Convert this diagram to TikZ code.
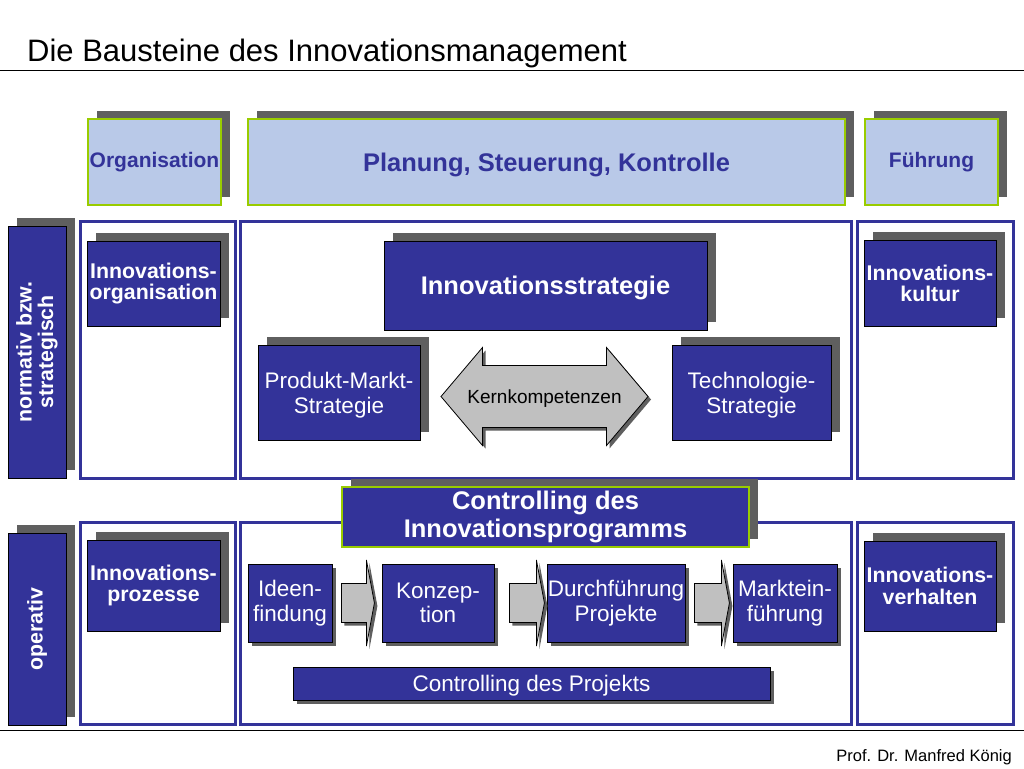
\documentclass[tikz,border=0pt]{standalone}
\usepackage{fontspec}
\setmainfont{Liberation Sans}
\usetikzlibrary{shadows,calc}
\definecolor{navy}{RGB}{51,51,153}
\definecolor{lightblue}{RGB}{185,201,232}
\definecolor{limeborder}{RGB}{153,204,0}
\definecolor{shadowgray}{RGB}{95,95,95}
\definecolor{arrowgray}{RGB}{192,192,192}
\newcommand\szTitle{\fontsize{31}{36}\selectfont}
\newcommand\szFoot{\fontsize{16.5}{20}\selectfont}
\newcommand\szTop{\fontsize{21}{24}\selectfont\bfseries}
\newcommand\szBig{\fontsize{25.5}{28}\selectfont\bfseries}
\newcommand\szBold{\fontsize{21.3}{21.5}\selectfont\bfseries}
\newcommand\szReg{\fontsize{22.5}{24.5}\selectfont}
\newcommand\szRegW{\fontsize{22.5}{25}\selectfont}
\newcommand\szKern{\fontsize{19}{22}\selectfont}
\newcommand\procarrow[2]{%
  \draw[blockarrow] ($(#1)+(0,-19.5)$) -- ++({#2-8},0) -- ++(0,-23.5) -- ++(8,43)
    -- ++(-8,43) -- ++(0,-23.5) -- ++({-(#2-8)},0) -- cycle;}
\begin{document}
\begin{tikzpicture}[x=1pt,y=-1pt,
  upshadow/.style={general shadow={fill=shadowgray, shadow xshift=8.5pt, shadow yshift=8.5pt}},
  downshadow/.style={general shadow={fill=shadowgray, shadow xshift=3.5pt, shadow yshift=-3.5pt}},
  topbox/.style={rectangle, fill=lightblue, draw=limeborder, line width=1.2pt, inner sep=0pt,
    text=navy, font=\szTop, align=center, upshadow},
  navybox/.style={rectangle, fill=navy, draw=black, line width=0.8pt, inner sep=0pt,
    text=white, align=center, upshadow},
  procbox/.style={rectangle, fill=navy, draw=black, line width=0.8pt, inner sep=0pt,
    text=white, align=center, font=\szReg, downshadow},
  frame/.style={rectangle, draw=navy, line width=3pt, fill=white, inner sep=0pt},
  blockarrow/.style={fill=arrowgray, draw=black, line width=0.8pt,
    general shadow={fill=shadowgray, shadow xshift=3pt, shadow yshift=-3pt}},
  nodepth/.style={text depth=0pt},
  rule/.style={draw=black, line width=0.9pt}
]
\fill[white] (0,0) rectangle (1024,768);
\useasboundingbox (0,0) rectangle (1024,768);

% title and rules
\node[anchor=base west, inner sep=0pt, font=\szTitle] (title) at (27,61) {Die Bausteine des Innovationsmanagement};
\coordinate (rl1) at (0,70);
\coordinate (rr1) at (1024,70);
\draw[rule] (rl1) -- (rr1);
\coordinate (rl2) at (0,730.5);
\coordinate (rr2) at (1024,730.5);
\draw[rule, line width=1.2pt] (rl2) -- (rr2);
\node[anchor=base east, inner sep=0pt, font=\szFoot] (foot) at (1012,761) {Prof. Dr. Manfred König};

% top row
\node[topbox, minimum width=133pt, minimum height=86pt] (org) at (154.5,162) {Organisation};
\node[topbox, font=\szBig, nodepth, minimum width=597pt, minimum height=86pt] (psk) at (546.5,162) {Planung, Steuerung, Kontrolle};
\node[topbox, minimum width=133pt, minimum height=86pt] (fue) at (931.5,162) {Führung};

% frames
\node[frame, minimum width=155pt, minimum height=257pt] (f1u) at (157.5,349.5) {};
\node[frame, minimum width=611pt, minimum height=257pt] (f2u) at (545.5,349.5) {};
\node[frame, minimum width=156pt, minimum height=257pt] (f3u) at (935,349.5) {};
\node[frame, minimum width=155pt, minimum height=202pt] (f1l) at (157.5,623) {};
\node[frame, minimum width=611pt, minimum height=202pt] (f2l) at (545.5,623) {};
\node[frame, minimum width=156pt, minimum height=202pt] (f3l) at (935,623) {};

% side labels
\node[navybox, minimum width=58pt, minimum height=252pt] (norm) at (37,352) {};
\node[rotate=90, text=white, font=\szBold, align=center, inner sep=0pt] (normt) at (norm.center) {normativ bzw.\\strategisch};
\node[navybox, minimum width=58pt, minimum height=192pt] (oper) at (37,629) {};
\node[rotate=90, text=white, font=\szBold, align=center, inner sep=0pt] (opert) at (oper.center) {operativ};

% side boxes
\node[navybox, font=\szBold, minimum width=133pt, minimum height=85pt] (iorg) at (153.5,283.5) {Innovations-\\organisation};
\node[navybox, font=\szBold, minimum width=132pt, minimum height=86pt] (ikul) at (930,283.5) {Innovations-\\kultur};
\node[navybox, font=\szBold, minimum width=133pt, minimum height=91pt] (ipro) at (153.5,585.5) {Innovations-\\prozesse};
\node[navybox, font=\szBold, minimum width=132pt, minimum height=90pt] (iver) at (930,586) {Innovations-\\verhalten};

% strategy
\node[navybox, font=\szBig, nodepth, minimum width=323pt, minimum height=89pt] (istr) at (545.5,285.5) {Innovationsstrategie};
\node[navybox, font=\szRegW, nodepth, minimum width=162pt, minimum height=95pt] (prod) at (339,392.5) {Produkt-Markt-\\Strategie};
\node[navybox, font=\szRegW, nodepth, minimum width=159pt, minimum height=95pt] (tech) at (751.5,392.5) {Technologie-\\Strategie};
\coordinate (kc) at ($($(prod.east)!0.5!(tech.west)$)+(-1.5,4)$);
\draw[blockarrow] ($(kc)+(-103.5,0)$) -- ++(41.5,-49) -- ++(0,18) -- ++(124,0) -- ++(0,-18)
  -- ++(41.5,49) -- ++(-41.5,49) -- ++(0,-18) -- ++(-124,0) -- ++(0,18) -- cycle;
\node[font=\szKern, nodepth, text=black, inner sep=0pt] (kk) at (kc) {Kernkompetenzen};

% controlling programme
\node[navybox, draw=limeborder, line width=1.2pt, font=\szBig, minimum width=407pt, minimum height=60pt] (cip) at (545.5,517) {Controlling des\\Innovationsprogramms};

% process
\node[procbox, minimum width=84pt, minimum height=78pt] (ideen) at (290,603) {Ideen-\\findung};
\node[procbox, minimum width=112pt, minimum height=78pt] (konz) at (438,603) {Konzep-\\tion};
\node[procbox, minimum width=138pt, minimum height=78pt] (durch) at (616,603) {Durchführung\\Projekte};
\node[procbox, minimum width=104pt, minimum height=78pt] (markt) at (785,603) {Marktein-\\führung};
\coordinate (a1) at ($(ideen.east)+(9,0)$);
\coordinate (a2) at ($(konz.east)+(15,0)$);
\coordinate (a3) at ($(durch.east)+(9,0)$);
\procarrow{a1}{33}
\procarrow{a2}{35}
\procarrow{a3}{35}
\node[procbox, nodepth, minimum width=477pt, minimum height=33pt] (cpro) at (531.5,683.5) {Controlling des Projekts};
\end{tikzpicture}
\end{document}
